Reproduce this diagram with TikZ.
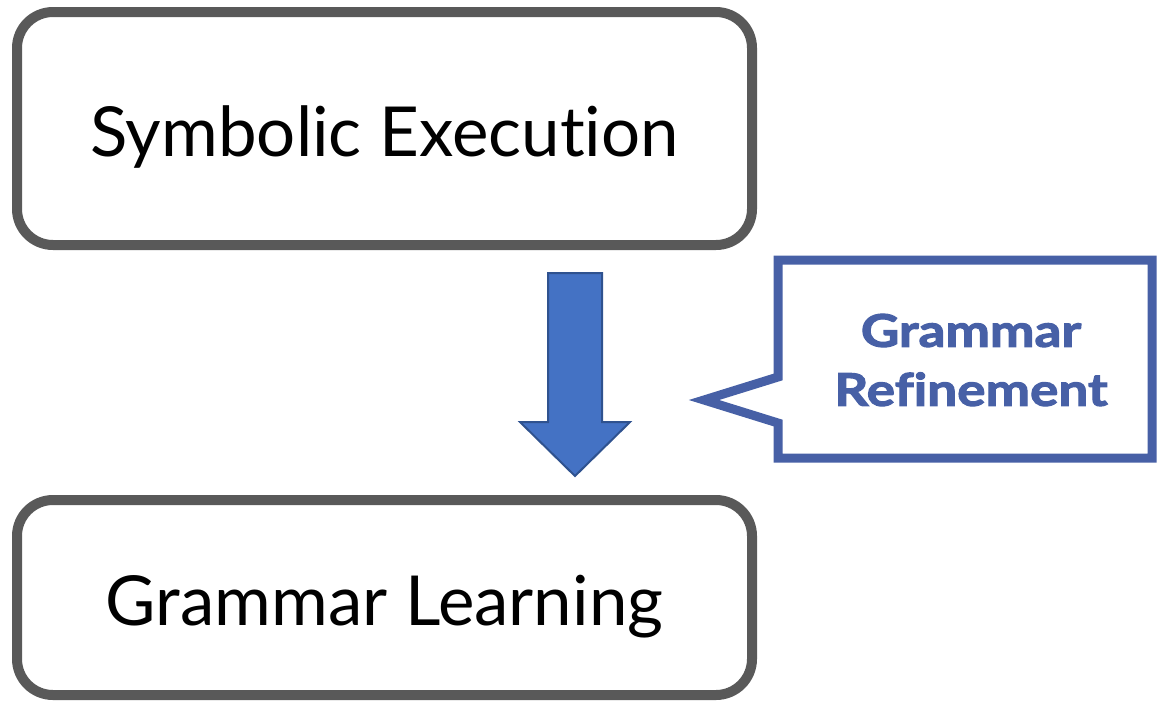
\documentclass[tikz,border=0pt]{standalone}
\usepackage{fontspec}
\setmainfont{Lato}[Ligatures=NoCommon]
\newfontfamily\notefont{Lato}[Ligatures=NoCommon, BoldFeatures={FakeBold=2.5, FakeStretch=1.18}]
\begin{document}
\definecolor{boxgrey}{HTML}{595959}
\definecolor{arrowfill}{HTML}{4472C4}
\definecolor{arrowedge}{HTML}{2F528F}
\definecolor{calloutblue}{HTML}{4760A6}
\begin{tikzpicture}[x=1pt,y=-1pt,
  stagebox/.style={draw=boxgrey, line width=10pt, rounded corners=36pt,
    minimum width=735pt, font=\fontsize{69}{80}\selectfont, inner sep=0pt,
    text height=56pt, text depth=0pt},
  noteline/.style={draw=calloutblue, line width=9pt, miter limit=10},
  notetext/.style={text=calloutblue, font=\notefont\fontsize{45}{59}\selectfont\bfseries,
    align=center, inner sep=0pt}]
\useasboundingbox (0,0) rectangle (1157,702);
% the two stages
\node[stagebox, minimum height=233pt] (symb) at (384.5,128.5) {Symbolic Execution};
\node[stagebox, minimum height=195pt] (gram) at (384.5,597.5) {Grammar Learning};
% block arrow between the stages
\draw[fill=arrowfill, draw=arrowedge, line width=2pt, line join=miter]
  (548,273) -- (602,273) -- (602,422) -- (630,422) -- (575,476)
  -- (520,422) -- (548,422) -- cycle;
% callout with its pointer
\draw[noteline] (778,377) -- (778,260) -- (1152,260) -- (1152,458)
  -- (778,458) -- (778,423) -- (704,400) -- cycle;
\node[notetext] (note) at (971,360) {Grammar\\Refinement};
\end{tikzpicture}
\end{document}
